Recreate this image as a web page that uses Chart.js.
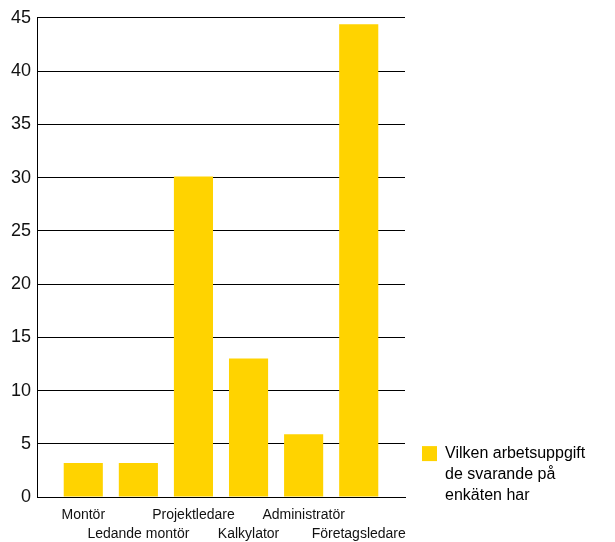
<!DOCTYPE html>
<html>
<head>
<meta charset="utf-8">
<script src="https://cdn.jsdelivr.net/npm/chart.js@4/dist/chart.umd.min.js"></script>
<style>
  body { margin: 0; background: #fff; }
  #wrap { width: 615px; height: 542px; position: relative; }
</style>
</head>
<body>
<div id="wrap"><canvas id="myChart"></canvas></div>
<script>
// arbetsuppgifter och andel svar
var categories = ['Montör', 'Ledande montör', 'Projektledare', 'Kalkylator', 'Administratör', 'Företagsledare'];
var values = [3.2, 3.2, 30.1, 13.0, 5.9, 44.4];
var yTicks = [0, 5, 10, 15, 20, 25, 30, 35, 40, 45];
var seriesLabel = ['Vilken arbetsuppgift', 'de svarande på', 'enkäten har'];

var FONT = "'Liberation Sans', Arial, sans-serif";
var barColor = '#FFD300';

// punkter för x-axeln (linjär skala så att axeln kan sträcka sig förbi staplarna)
var points = [];
for (var i = 0; i < values.length; i++) {
  points.push({x: i, y: values[i]});
}

var chart = new Chart('myChart', {
  type: 'bar',
  data: {
    datasets: [{
      label: seriesLabel.join(' '),
      data: points,
      backgroundColor: barColor,
      borderWidth: 0,
      categoryPercentage: 1,
      barPercentage: 0.71
    }]
  },
  options: {
    responsive: true,
    maintainAspectRatio: false,
    animation: false,
    layout: { padding: 0 },
    scales: {
      x: {
        type: 'linear',
        bounds: 'data',
        offset: false,
        min: -0.84,
        max: 5.84,
        afterBuildTicks: function (scale) {
          scale.ticks = categories.map(function (c, i) { return {value: i}; });
        },
        afterFit: function (scale) { scale.height = 45; },
        grid: { display: false, drawTicks: false, offset: false },
        border: { display: true, color: '#000', width: 1 },
        ticks: {
          autoSkip: false,
          maxRotation: 0,
          padding: 9,
          color: '#111',
          font: { family: FONT, size: 14, lineHeight: 1.36 },
          callback: function (v) {
            var name = categories[v];
            if (name === undefined) return '';
            // varannan etikett på andra raden
            return v % 2 === 0 ? [name] : ['', name];
          }
        }
      },
      y: {
        min: 0,
        max: 45,
        afterBuildTicks: function (scale) {
          scale.ticks = yTicks.map(function (t) { return {value: t}; });
        },
        afterFit: function (scale) { scale.width = 37; },
        grid: { color: '#000', lineWidth: 1, drawTicks: false },
        border: { display: true, color: '#000', width: 1 },
        ticks: {
          padding: 6,
          color: '#111',
          font: { family: FONT, size: 18, lineHeight: 1.33 }
        }
      }
    },
    plugins: {
      tooltip: { enabled: false },
      legend: {
        position: 'right',
        align: 'end',
        labels: {
          boxWidth: 15,
          boxHeight: 15,
          padding: 17,
          color: '#111',
          font: { family: FONT, size: 16, lineHeight: 1.3 },
          generateLabels: function (chart) {
            return [{
              text: seriesLabel,
              fillStyle: barColor,
              strokeStyle: barColor,
              lineWidth: 0,
              datasetIndex: 0
            }];
          }
        }
      }
    }
  }
});

// förklaringen får en fast bredd så att hela texten syns,
// och ritas en bit ovanför nederkanten
var legendFit = chart.legend.fit;
chart.legend.fit = function () {
  legendFit.call(this);
  this.width = 210;
};
var legendDraw = chart.legend.draw;
chart.legend.draw = function () {
  var ctx = this.ctx;
  ctx.save();
  ctx.translate(0, -17);
  legendDraw.apply(this, arguments);
  ctx.restore();
};
chart.update();
</script>
</body>
</html>
